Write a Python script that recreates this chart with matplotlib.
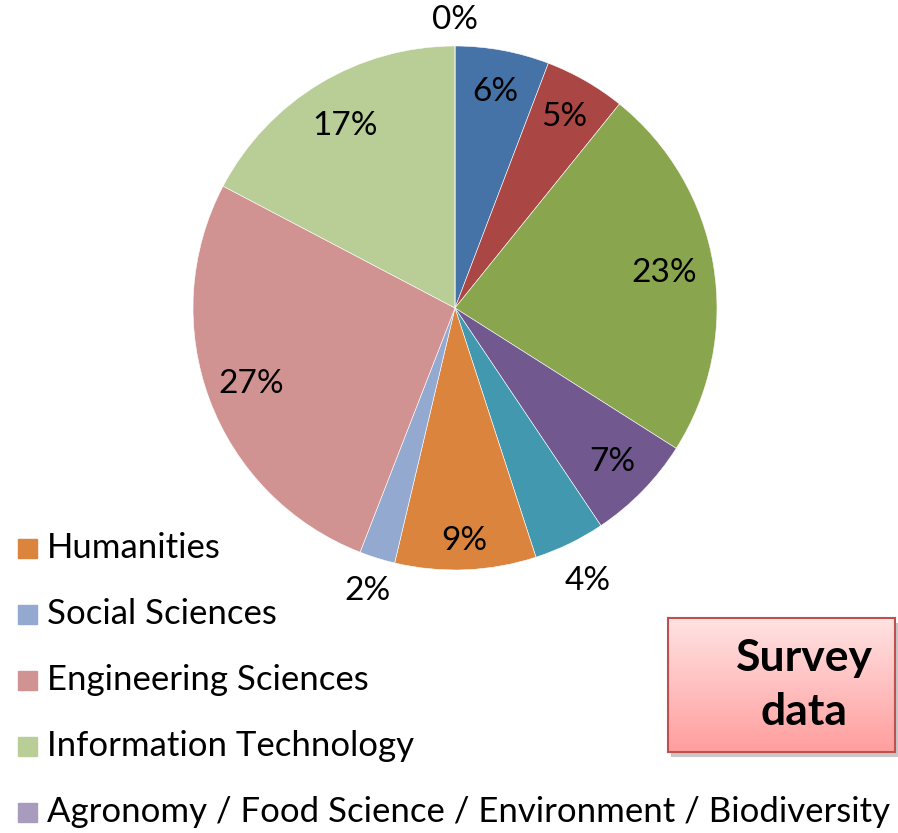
import numpy as np
import matplotlib.pyplot as plt
from matplotlib.patches import Rectangle

plt.rcParams['font.family'] = ['Lato', 'DejaVu Sans']

# slice values in percent, clockwise from 12 o'clock
shares = [5.8, 5.0, 23.2, 6.6, 4.4, 8.7, 2.2, 26.8, 17.3, 0.0]
pct_labels = ["6%", "5%", "23%", "7%", "4%", "9%", "2%", "27%", "17%", "0%"]
colors = ["#4572A7", "#AA4643", "#89A54E", "#71588F", "#4198AF",
          "#DB843D", "#93A9CF", "#D19392", "#B9CD96", "#A99BBD"]

# legend only shows the last five categories (first ones are cut off)
legend_names = ["Humanities", "Social Sciences", "Engineering Sciences",
                "Information Technology",
                "Agronomy / Food Science / Environment / Biodiversity"]
legend_idx = [5, 6, 7, 8, 9]

W, H = 898, 833
fig = plt.figure(figsize=(W / 100, H / 100), dpi=100)

cx, cy, R = 455, 308, 262
ax = fig.add_axes([(cx - R) / W, (H - cy - R) / H, 2 * R / W, 2 * R / H])
wedges, _ = ax.pie(shares, colors=colors, startangle=90, counterclock=False,
                   radius=1, wedgeprops=dict(edgecolor="white", linewidth=0.4))
ax.set_xlim(-1, 1)
ax.set_ylim(-1, 1)

# label distance from centre (fraction of radius)
label_r = [0.84, 0.84, 0.81, 0.84, 1.16, 0.89, 1.13, 0.83, 0.81, 1.10]
for w, lab, r in zip(wedges, pct_labels, label_r):
    ang = np.deg2rad((w.theta1 + w.theta2) / 2)
    ax.text(r * np.cos(ang), r * np.sin(ang), lab, ha="center", va="center",
            fontsize=24, color="black", clip_on=False)

# legend drawn by hand
y0, dy = 548, 66
for k, (name, i) in enumerate(zip(legend_names, legend_idx)):
    y = y0 + k * dy
    fig.patches.append(Rectangle((18 / W, (H - y - 10) / H), 19 / W, 19 / H,
                                 transform=fig.transFigure, color=colors[i]))
    fig.text(47 / W, (H - y) / H, name, fontsize=25, va="center", ha="left")

# "Survey data" box with gradient and shadow
bx0, by0, bx1, by1 = 668, 618, 895, 752
shadow = fig.add_axes([(bx0 + 3) / W, (H - by1 - 5) / H,
                       (bx1 - bx0) / W, (by1 - by0) / H], zorder=1)
shadow.set_facecolor("#c8c8c8")
shadow.set_xticks([])
shadow.set_yticks([])
for s in shadow.spines.values():
    s.set_visible(False)

bax = fig.add_axes([bx0 / W, (H - by1) / H, (bx1 - bx0) / W, (by1 - by0) / H],
                   zorder=2)
top = np.array([1.0, 0.89, 0.89])
bot = np.array([1.0, 0.62, 0.62])
t = np.linspace(0, 1, 100)[:, None]
grad = top * (1 - t) + bot * t
bax.imshow(grad[:, None, :], aspect="auto", extent=[0, 1, 0, 1])
bax.set_xticks([])
bax.set_yticks([])
for s in bax.spines.values():
    s.set_color("#C0504D")
    s.set_linewidth(1.5)
bax.text(0.6, 0.5, "Survey\ndata", ha="center", va="center", fontsize=32,
         fontweight="bold", linespacing=1.4, transform=bax.transAxes)

fig.savefig("out.png", dpi=100)
